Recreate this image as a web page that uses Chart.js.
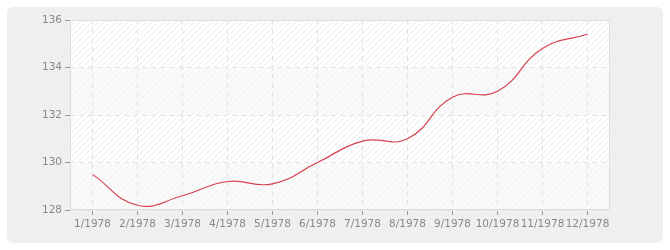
<!DOCTYPE html>
<html>
<head>
<meta charset="utf-8">
<script src="https://cdn.jsdelivr.net/npm/chart.js@4/dist/chart.umd.min.js"></script>
<style>
  body { margin: 0; background: #fff; }
  #panel { position: absolute; left: 7px; top: 7px; width: 656px; height: 236px; background: #efefef; border-radius: 6px; }
  #wrap { position: absolute; left: 0; top: 0; width: 670px; height: 250px; }
</style>
</head>
<body>
<div id="panel"></div>
<div id="wrap"><canvas id="popChart" width="670" height="250"></canvas></div>
<script>
// data
const months = ['1/1978', '2/1978', '3/1978', '4/1978', '5/1978', '6/1978',
                '7/1978', '8/1978', '9/1978', '10/1978', '11/1978', '12/1978'];
const population = [129.5, 128.2, 128.6, 129.2, 129.1, 130.0,
                    130.9, 131.0, 132.75, 133.0, 134.8, 135.4];
const yTicks = [128, 130, 132, 134, 136];

function makeHatch(color) {
    const c = document.createElement('canvas');
    c.width = 6; c.height = 6;
    const g = c.getContext('2d');
    g.strokeStyle = color;
    g.lineWidth = 1;
    g.beginPath();
    g.moveTo(0, 6); g.lineTo(6, 0);
    g.moveTo(-3, 3); g.lineTo(3, -3);
    g.moveTo(3, 9); g.lineTo(9, 3);
    g.stroke();
    return c;
}

// background bands + frame
const plotBackground = {
    id: 'plotBackground',
    beforeDraw(chart) {
        const { ctx, chartArea: a, scales } = chart;
        const y = scales.y;
        ctx.save();
        ctx.fillStyle = '#ffffff';
        ctx.fillRect(a.left, a.top, a.width, a.height);
        const dark = ctx.createPattern(makeHatch('#ececec'), 'repeat');
        const light = ctx.createPattern(makeHatch('#f3f3f3'), 'repeat');
        for (let i = 0; i < yTicks.length - 1; i++) {
            const y0 = y.getPixelForValue(yTicks[i]);
            const y1 = y.getPixelForValue(yTicks[i + 1]);
            ctx.fillStyle = (i % 2 === 0) ? '#fafafa' : '#ffffff';
            ctx.fillRect(a.left, y1, a.width, y0 - y1);
            ctx.fillStyle = (i % 2 === 0) ? light : dark;
            ctx.fillRect(a.left, y1, a.width, y0 - y1);
        }
        ctx.restore();
    },
    afterDatasetsDraw(chart) {
        const { ctx, chartArea: a } = chart;
        ctx.save();
        ctx.strokeStyle = '#dddddd';
        ctx.lineWidth = 1;
        ctx.strokeRect(a.left + 0.5, a.top + 0.5, a.width - 1, a.height - 1);
        ctx.restore();
    }
};

new Chart(document.getElementById('popChart'), {
    type: 'line',
    data: {
        labels: months,
        datasets: [{
            data: population,
            borderColor: '#d8404f',
            borderWidth: 1.2,
            pointRadius: 0,
            tension: 0.45,
            fill: false
        }]
    },
    options: {
        responsive: false,
        animation: false,
        layout: { padding: { top: 20, right: 60, left: 0, bottom: 0 } },
        plugins: { legend: { display: false }, tooltip: { enabled: false } },
        scales: {
            x: {
                offset: true,
                afterFit(s) { s.height = 40; },
                grid: {
                    offset: false,
                    color: '#e2e2e2',
                    tickBorderDash: [],
                    tickColor: '#999999',
                    tickLength: 5
                },
                border: { display: false, dash: [5, 4] },
                ticks: {
                    color: '#888888',
                    font: { family: 'DejaVu Sans', size: 10.5 },
                    padding: 3,
                    maxRotation: 0,
                    autoSkip: false
                }
            },
            y: {
                min: 128,
                max: 136,
                afterFit(s) { s.width = 70; },
                afterBuildTicks(s) { s.ticks = yTicks.map(v => ({ value: v })); },
                grid: {
                    color: '#e2e2e2',
                    tickBorderDash: [],
                    tickColor: '#999999',
                    tickLength: 5
                },
                border: { display: false, dash: [5, 4] },
                ticks: {
                    color: '#888888',
                    font: { family: 'DejaVu Sans', size: 10.5 },
                    padding: 3
                }
            }
        }
    },
    plugins: [plotBackground]
});
</script>
</body>
</html>
